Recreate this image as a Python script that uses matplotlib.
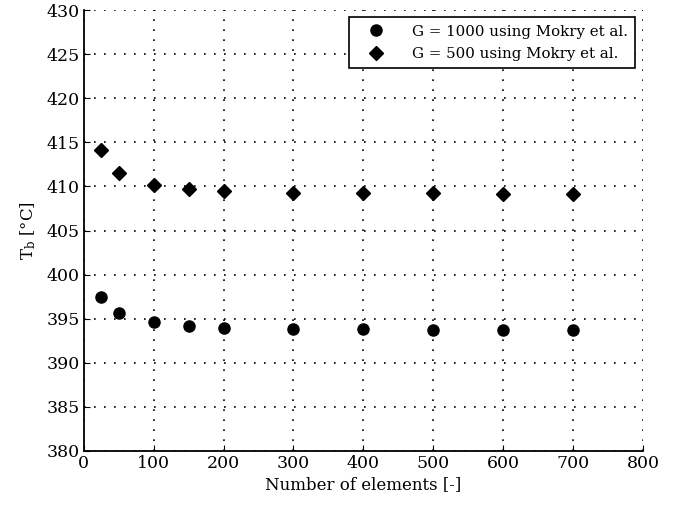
import matplotlib
matplotlib.use("Agg")
import matplotlib.pyplot as plt

elements = [25, 50, 100, 150, 200, 300, 400, 500, 600, 700]
tb_g1000 = [397.5, 395.6, 394.6, 394.2, 394.0, 393.8, 393.8, 393.7, 393.7, 393.7]
tb_g500 = [414.1, 411.5, 410.2, 409.7, 409.5, 409.3, 409.2, 409.2, 409.1, 409.1]
xticks = [0, 100, 200, 300, 400, 500, 600, 700, 800]
yticks = [380, 385, 390, 395, 400, 405, 410, 415, 420, 425, 430]

plt.rcParams['font.family'] = ['DejaVu Serif']
plt.rcParams['mathtext.fontset'] = 'dejavuserif'

fig = plt.figure(figsize=(6.76, 5.05), dpi=100)
ax = fig.add_axes([0.124, 0.107, 0.827, 0.873])

ax.plot(elements, tb_g1000, 'o', color='black', markersize=8, linestyle='none',
        label='G = 1000 using Mokry et al.')
ax.plot(elements, tb_g500, 'D', color='black', markersize=7.5, linestyle='none',
        label='G = 500 using Mokry et al.')

ax.set_xlim(0, 800)
ax.set_ylim(380, 430)
ax.set_xticks(xticks)
ax.set_yticks(yticks)
ax.grid(True, linestyle=(0, (1, 5)), color='black', linewidth=1.2)
ax.spines['top'].set_visible(False)
ax.spines['right'].set_visible(False)
ax.spines['left'].set_linewidth(1.3)
ax.spines['bottom'].set_linewidth(1.3)
ax.tick_params(direction='in', length=4, labelsize=12.5, pad=3)

ax.set_xlabel('Number of elements [-]', fontsize=12, labelpad=3)
ax.set_ylabel(r'T$_\mathrm{b}$ [°C]', fontsize=12, labelpad=6)

leg = ax.legend(loc='upper right', fontsize=10.8, frameon=True, fancybox=False,
                edgecolor='black', framealpha=1, borderpad=0.5, handletextpad=1.1,
                handlelength=2.6, labelspacing=0.55, borderaxespad=0,
                bbox_to_anchor=(0.9865, 0.984))
leg.get_frame().set_linewidth(1.2)

fig.savefig('out.png', dpi=100)
